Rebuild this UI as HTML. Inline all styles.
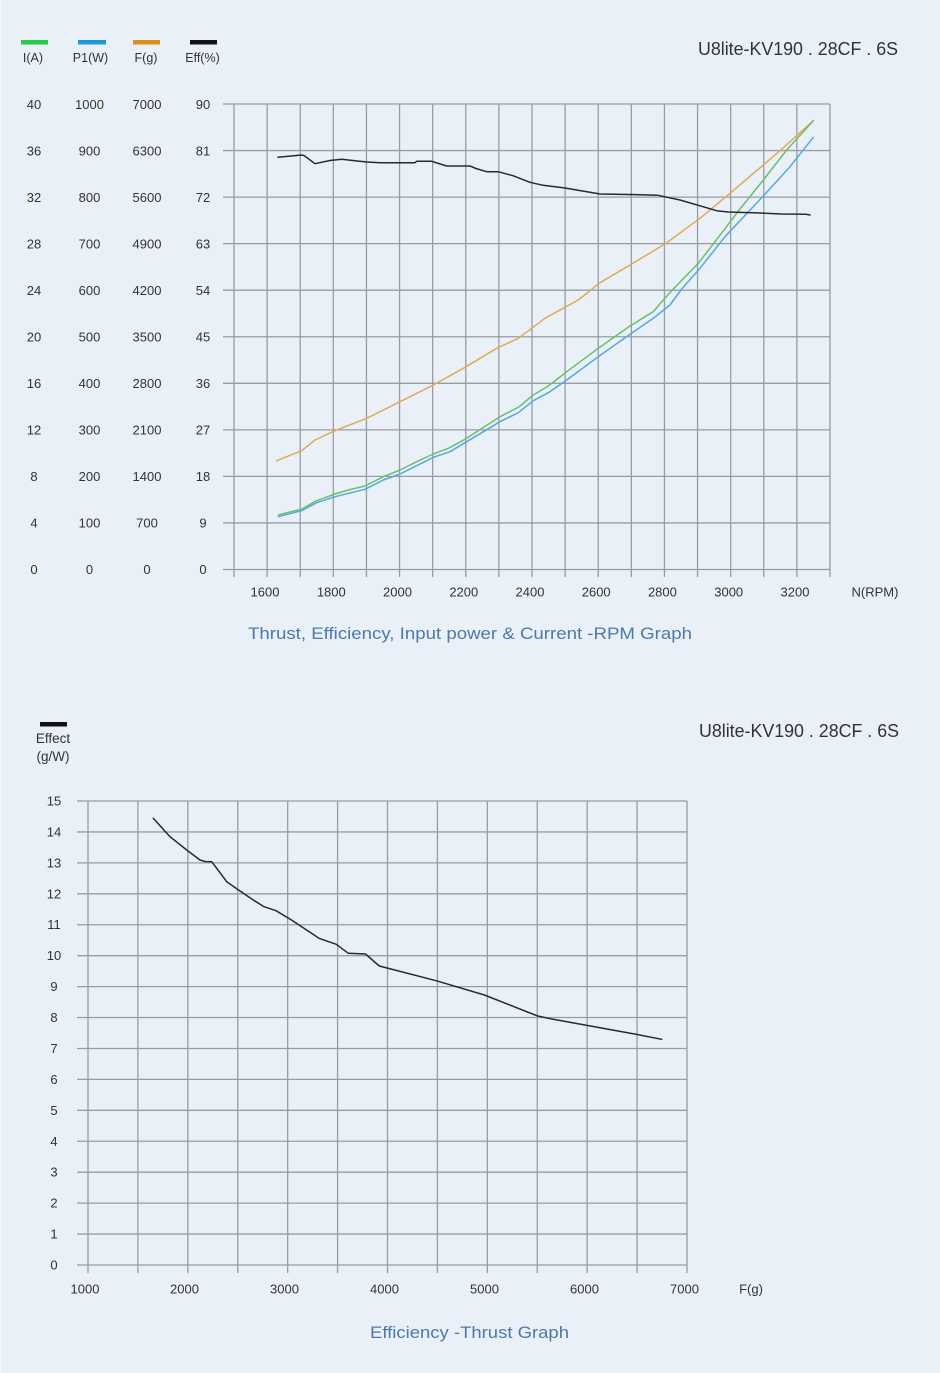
<!DOCTYPE html>
<html><head><meta charset="utf-8"><style>
html,body{margin:0;padding:0;background:#eaf0f7;}
svg{display:block;}
text{font-family:"Liberation Sans",Arial,sans-serif;}
</style></head><body>
<svg width="940" height="1373" viewBox="0 0 940 1373" xmlns="http://www.w3.org/2000/svg">
<rect x="0" y="0" width="940" height="1373" fill="#eaf0f7"/>
<rect x="0" y="0" width="1" height="1373" fill="#f5f8fc"/>

<!-- ===== TOP CHART ===== -->
<!-- legend -->
<rect x="21" y="40" width="27" height="4.5" fill="#22cc44"/>
<rect x="78" y="40" width="28" height="4.5" fill="#1a9ad6"/>
<rect x="133" y="40" width="27" height="4.5" fill="#d8921c"/>
<rect x="190" y="40" width="27" height="4.5" fill="#111"/>
<g font-size="12.5" fill="#333" text-anchor="middle">
<text x="33" y="62">I(A)</text>
<text x="90.5" y="62">P1(W)</text>
<text x="146" y="62">F(g)</text>
<text x="202.5" y="62">Eff(%)</text>
</g>
<text x="898" y="55" font-size="18" fill="#333" text-anchor="end" textLength="200" lengthAdjust="spacingAndGlyphs">U8lite-KV190 . 28CF . 6S</text>

<!-- grid -->
<g stroke="#989da5" stroke-width="1.3" fill="none">
<path d="M223 104.0H830 M223 150.55H830 M223 197.1H830 M223 243.65H830 M223 290.2H830 M223 336.75H830 M223 383.3H830 M223 429.85H830 M223 476.4H830 M223 522.95H830 M223 569.5H830"/>
<path d="M234 104V577 M267.11 104V577 M300.22 104V577 M333.33 104V577 M366.44 104V577 M399.56 104V577 M432.67 104V577 M465.78 104V577 M498.89 104V577 M532 104V577 M565.11 104V577 M598.22 104V577 M631.33 104V577 M664.44 104V577 M697.56 104V577 M730.67 104V577 M763.78 104V577 M796.89 104V577 M830 104V577"/>
</g>

<!-- y labels -->
<g font-size="13" fill="#333" text-anchor="middle">
<text x="34" y="109">40</text><text x="89.5" y="109">1000</text><text x="147" y="109">7000</text><text x="203" y="109">90</text>
<text x="34" y="155.5">36</text><text x="89.5" y="155.5">900</text><text x="147" y="155.5">6300</text><text x="203" y="155.5">81</text>
<text x="34" y="202">32</text><text x="89.5" y="202">800</text><text x="147" y="202">5600</text><text x="203" y="202">72</text>
<text x="34" y="248.5">28</text><text x="89.5" y="248.5">700</text><text x="147" y="248.5">4900</text><text x="203" y="248.5">63</text>
<text x="34" y="295">24</text><text x="89.5" y="295">600</text><text x="147" y="295">4200</text><text x="203" y="295">54</text>
<text x="34" y="341.5">20</text><text x="89.5" y="341.5">500</text><text x="147" y="341.5">3500</text><text x="203" y="341.5">45</text>
<text x="34" y="388">16</text><text x="89.5" y="388">400</text><text x="147" y="388">2800</text><text x="203" y="388">36</text>
<text x="34" y="434.5">12</text><text x="89.5" y="434.5">300</text><text x="147" y="434.5">2100</text><text x="203" y="434.5">27</text>
<text x="34" y="481">8</text><text x="89.5" y="481">200</text><text x="147" y="481">1400</text><text x="203" y="481">18</text>
<text x="34" y="527.5">4</text><text x="89.5" y="527.5">100</text><text x="147" y="527.5">700</text><text x="203" y="527.5">9</text>
<text x="34" y="574">0</text><text x="89.5" y="574">0</text><text x="147" y="574">0</text><text x="203" y="574">0</text>
</g>
<!-- x labels -->
<g font-size="13" fill="#333" text-anchor="middle">
<text x="265" y="596.5">1600</text>
<text x="331.3" y="596.5">1800</text>
<text x="397.5" y="596.5">2000</text>
<text x="463.8" y="596.5">2200</text>
<text x="530" y="596.5">2400</text>
<text x="596.2" y="596.5">2600</text>
<text x="662.4" y="596.5">2800</text>
<text x="728.7" y="596.5">3000</text>
<text x="795" y="596.5">3200</text>
</g>
<text x="875" y="596.5" font-size="13" fill="#333" text-anchor="middle">N(RPM)</text>

<!-- series -->
<g fill="none" stroke-width="1.5" stroke-linejoin="round" stroke-linecap="round">
<polyline stroke="#e0aa55" points="276.7,460.7 301.7,450.7 315,440 335,430.7 366.7,418.3 400,401.7 433.3,385 463.3,368.3 496.7,348.3 518.3,338.3 531.7,328.3 545,318.3 565,307.3 578.3,300 600,282.7 630,265 655,250 665,244 700,218.3 730,193.3 763.3,165 780,150.7 813.3,120.7"/>
<polyline stroke="#55a8dc" points="278.3,516.7 301.7,510.7 316.7,502.7 335,496.7 365,489.3 383.3,480 400,474 416.7,465.7 433.3,457.3 450,451.7 465,442.7 500,421.7 518.3,412.7 533.3,400.7 548.3,392.7 566.7,380 598.3,356.7 630,334.3 653.3,318.3 670,305 681.7,289 700,268.3 725,236.7 763.3,196 790,166.7 813.3,137.3"/>
<polyline stroke="#6abf6c" points="278.3,515 301.7,509 316.7,500.7 335,494 348.3,490 365,486 383.3,476.7 400,470 416.7,461.7 433.3,454 448.3,448.3 465,439.3 500,416.7 518.3,407.3 533.3,395 548.3,386 566.7,371.7 598.3,348.3 630,326 653.3,311.7 663.3,300 673.3,289 698.3,263.3 715,241.7 740,209 763.3,180 786.7,150 813.3,120.7"/>
<polyline stroke="#2a2a2a" points="278,157.3 301.7,155 304,155.5 315,163.7 330,160.5 341.7,159.3 355,160.8 366.7,162 380,162.7 415,162.7 416.7,161.3 431.7,161.3 446.7,166 470,166 476,168.5 486.7,171.7 498,171.7 513,175.7 530,182.3 543,185.3 565,188 600,194 640,194.7 658,195.3 680,200 716.7,210.7 728,212 753,212.7 781.7,214 806,214.3 810,215"/>
</g>

<text x="470" y="639" font-size="17" fill="#4d79a8" text-anchor="middle" textLength="444" lengthAdjust="spacingAndGlyphs">Thrust, Efficiency, Input power &amp; Current -RPM Graph</text>

<!-- ===== BOTTOM CHART ===== -->
<rect x="40" y="722" width="27" height="4.5" fill="#111"/>
<text x="53" y="743" font-size="13.5" fill="#333" text-anchor="middle">Effect</text>
<text x="53" y="761" font-size="13.5" fill="#333" text-anchor="middle">(g/W)</text>
<text x="899" y="737" font-size="18" fill="#333" text-anchor="end" textLength="200" lengthAdjust="spacingAndGlyphs">U8lite-KV190 . 28CF . 6S</text>

<g stroke="#989da5" stroke-width="1.3" fill="none">
<path d="M77 801H687 M77 831.93H687 M77 862.87H687 M77 893.8H687 M77 924.73H687 M77 955.67H687 M77 986.6H687 M77 1017.53H687 M77 1048.47H687 M77 1079.4H687 M77 1110.33H687 M77 1141.27H687 M77 1172.2H687 M77 1203.13H687 M77 1234.07H687 M77 1265H687"/>
<path d="M88 801V1273 M137.92 801V1273 M187.83 801V1273 M237.75 801V1273 M287.67 801V1273 M337.58 801V1273 M387.5 801V1273 M437.42 801V1273 M487.33 801V1273 M537.25 801V1273 M587.17 801V1273 M637.08 801V1273 M687 801V1273"/>
</g>

<g font-size="13" fill="#333" text-anchor="middle">
<text x="54" y="805.5">15</text>
<text x="54" y="836.4">14</text>
<text x="54" y="867.4">13</text>
<text x="54" y="898.3">12</text>
<text x="54" y="929.2">11</text>
<text x="54" y="960.2">10</text>
<text x="54" y="991.1">9</text>
<text x="54" y="1022">8</text>
<text x="54" y="1053">7</text>
<text x="54" y="1083.9">6</text>
<text x="54" y="1114.8">5</text>
<text x="54" y="1145.8">4</text>
<text x="54" y="1176.7">3</text>
<text x="54" y="1207.6">2</text>
<text x="54" y="1238.6">1</text>
<text x="54" y="1269.5">0</text>
</g>
<g font-size="13" fill="#333" text-anchor="middle">
<text x="85" y="1293.5">1000</text>
<text x="184.5" y="1293.5">2000</text>
<text x="284.5" y="1293.5">3000</text>
<text x="384.5" y="1293.5">4000</text>
<text x="484.5" y="1293.5">5000</text>
<text x="584.5" y="1293.5">6000</text>
<text x="684.5" y="1293.5">7000</text>
</g>
<text x="751" y="1293.5" font-size="13" fill="#333" text-anchor="middle">F(g)</text>

<polyline fill="none" stroke="#2a2a2a" stroke-width="1.5" stroke-linejoin="round" stroke-linecap="round" points="153.3,818.3 170,836.7 186.7,850 200,860 205,861.5 211.7,861.7 218,870 226.7,881.7 240,891 253.3,900 264,906.7 276,910.7 291.5,920 319,938.3 336.3,944.3 348.3,953.3 365.5,954 379.3,966 436.1,980.7 484.4,995 537.7,1016 553.2,1019.3 635.9,1034.3 661.7,1039.3"/>

<text x="469.5" y="1338" font-size="17" fill="#4d79a8" text-anchor="middle" textLength="199" lengthAdjust="spacingAndGlyphs">Efficiency -Thrust Graph</text>
</svg>
</body></html>
